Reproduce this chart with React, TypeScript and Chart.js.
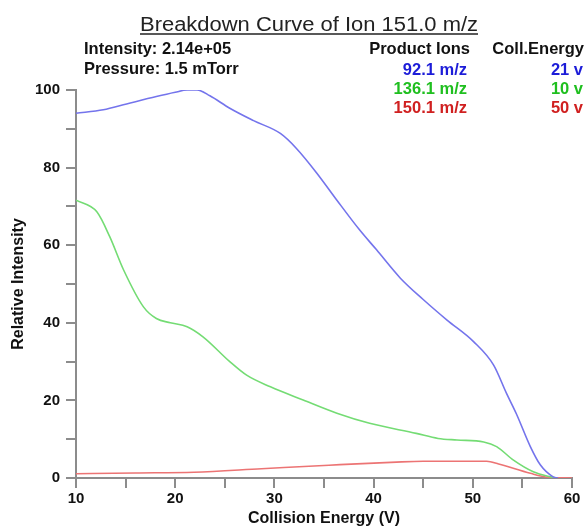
import React, { useEffect, useRef } from "react";
import { Chart, registerables } from "chart.js";

Chart.register(...registerables);

const titleText = "Breakdown Curve of Ion 151.0 m/z";
const infoLines = ["Intensity: 2.14e+05", "Pressure: 1.5 mTorr"];
const productIons = ["92.1 m/z", "136.1 m/z", "150.1 m/z"];
const collEnergies = ["21 v", "10 v", "50 v"];

const blueEnergy = [10, 12.75, 15.1, 18.1, 20, 21.2, 22.2, 23.5, 25.5, 27.9, 30.6, 32.2, 34.3, 36.3, 38.6, 40.3, 42.7, 45, 47.4, 50.1, 52.1, 53.4, 54.4, 55.8, 56.8, 58.1, 58.6];
const blueIntensity = [94, 94.9, 96.4, 98.3, 99.4, 100, 100, 98.5, 95.3, 92.1, 88.8, 85, 78.5, 71.6, 63.9, 58.8, 51.5, 46, 40.7, 35.1, 29.1, 21.8, 16.5, 8.1, 3.4, 0.3, 0];

const greenEnergy = [10, 12.1, 13.4, 14.8, 16.8, 18.1, 19.5, 21.2, 22.8, 25.5, 27.2, 29.6, 32.9, 36.3, 39.6, 44.3, 46.5, 48.4, 51.1, 52.4, 54.1, 56.1, 57.8, 58.4];
const greenIntensity = [71.6, 68.6, 62.2, 53.6, 44.1, 41.1, 40.0, 39.0, 36.4, 30.0, 26.5, 23.5, 20.1, 16.7, 14.1, 11.5, 10.2, 9.8, 9.3, 8.1, 4.6, 1.6, 0.3, 0];

const redEnergy = [10, 16, 21.9, 28.7, 35.5, 42.3, 45, 51.4, 52.6, 55.8, 57.6, 60];
const redIntensity = [1.1, 1.3, 1.5, 2.4, 3.3, 4.1, 4.3, 4.3, 3.6, 1.2, 0.2, 0];

const lineColors = ["#7474ec", "#74dc74", "#ec7474"];
const textColors = ["#1c1cd8", "#1fbf1f", "#d02020"];

const FONT = "'Liberation Sans', Arial, sans-serif";

function pts(xs: number[], ys: number[]) {
  return xs.map((x, i) => ({ x, y: ys[i] }));
}

const textPlugin = {
  id: "textPlugin",
  afterDraw(chart: any) {
    const ctx = chart.ctx as CanvasRenderingContext2D;
    ctx.save();
    // Title (slightly stretched horizontally like the reference)
    ctx.font = `19.5px ${FONT}`;
    ctx.fillStyle = "#222";
    ctx.textAlign = "center";
    ctx.textBaseline = "alphabetic";
    const tx = 309;
    const ty = 31;
    const natural = ctx.measureText(titleText).width;
    const sx = 338 / natural;
    ctx.save();
    ctx.translate(tx, ty);
    ctx.scale(sx, 1);
    ctx.fillText(titleText, 0, 0);
    ctx.restore();
    ctx.strokeStyle = "#222";
    ctx.lineWidth = 1.5;
    ctx.beginPath();
    ctx.moveTo(tx - 169, ty + 3);
    ctx.lineTo(tx + 169, ty + 3);
    ctx.stroke();

    // Info lines
    ctx.font = `bold 16.5px ${FONT}`;
    ctx.textBaseline = "middle";
    ctx.textAlign = "left";
    ctx.fillStyle = "#111";
    infoLines.forEach((t, i) => ctx.fillText(t, 84, 49 + i * 20));

    ctx.textAlign = "right";
    ctx.fillText("Product Ions", 470, 49);
    ctx.fillText("Coll.Energy", 584, 49);
    productIons.forEach((t, i) => {
      ctx.fillStyle = textColors[i];
      ctx.fillText(t, 467, 70 + i * 19.3);
    });
    collEnergies.forEach((t, i) => {
      ctx.fillStyle = textColors[i];
      ctx.fillText(t, 583, 70 + i * 19.3);
    });

    // Axis titles
    const area = chart.chartArea;
    ctx.fillStyle = "#111";
    ctx.font = `bold 16px ${FONT}`;
    ctx.textAlign = "center";
    ctx.textBaseline = "middle";
    ctx.fillText("Collision Energy (V)", (area.left + area.right) / 2, 519);
    ctx.translate(19, (area.top + area.bottom) / 2);
    ctx.rotate(-Math.PI / 2);
    ctx.fillText("Relative Intensity", 0, 0);
    ctx.restore();
  },
};

export default function App() {
  const ref = useRef<HTMLCanvasElement | null>(null);
  useEffect(() => {
    if (!ref.current) return;
    const mk = (data: any[], color: string) => ({
      data,
      borderColor: color,
      backgroundColor: color,
      borderWidth: 1.6,
      pointRadius: 0,
      cubicInterpolationMode: "monotone" as const,
      fill: false,
    });
    const chart = new Chart(ref.current, {
      type: "line",
      data: {
        datasets: [
          mk(pts(blueEnergy, blueIntensity), lineColors[0]),
          mk(pts(greenEnergy, greenIntensity), lineColors[1]),
          mk(pts(redEnergy, redIntensity), lineColors[2]),
        ],
      },
      options: {
        responsive: false,
        animation: false,
        layout: { padding: { top: 90, right: 15, left: 0, bottom: 0 } },
        plugins: { legend: { display: false }, tooltip: { enabled: false }, title: { display: false } },
        scales: {
          x: {
            type: "linear",
            min: 10,
            max: 60,
            afterFit: (s: any) => { s.height = 48; },
            border: { display: true, color: "#8c8c8c", width: 2 },
            grid: { drawOnChartArea: false, drawTicks: true, tickLength: 10, color: "#8c8c8c", lineWidth: 2 },
            ticks: {
              stepSize: 5,
              autoSkip: false,
              maxRotation: 0,
              padding: 2,
              color: "#111",
              font: { family: FONT, size: 15, weight: "bold" },
              callback: (v: any) => (Number(v) % 10 === 0 ? String(v) : ""),
            },
          },
          y: {
            type: "linear",
            min: 0,
            max: 100,
            afterFit: (s: any) => { s.width = 76; },
            border: { display: true, color: "#8c8c8c", width: 2 },
            grid: { drawOnChartArea: false, drawTicks: true, tickLength: 10, color: "#8c8c8c", lineWidth: 2 },
            ticks: {
              stepSize: 10,
              autoSkip: false,
              padding: 6,
              color: "#111",
              font: { family: FONT, size: 15, weight: "bold" },
              callback: (v: any) => (Number(v) % 20 === 0 ? String(v) : ""),
            },
          },
        },
      },
      plugins: [textPlugin],
    });
    return () => chart.destroy();
  }, []);
  return (
    <div style={{ position: "absolute", left: 0, top: 0, width: 587, height: 526, background: "#fff" }}>
      <canvas ref={ref} width={587} height={526} style={{ display: "block", width: 587, height: 526 }} />
    </div>
  );
}
